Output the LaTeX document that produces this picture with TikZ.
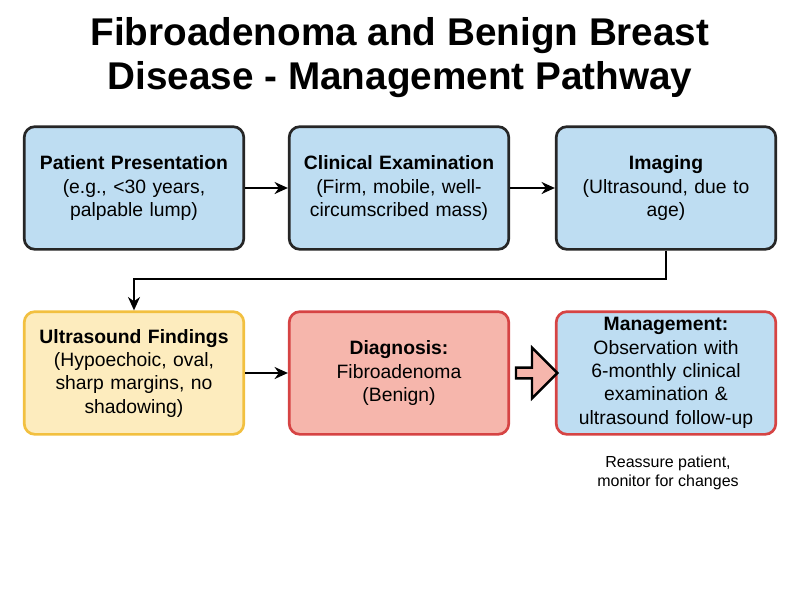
\documentclass[tikz,border=0pt]{standalone}
\usepackage{fontspec}
\setmainfont{Liberation Sans}
\usetikzlibrary{arrows.meta,shapes.arrows}
\definecolor{bluef}{RGB}{190,221,242}
\definecolor{yelf}{RGB}{253,236,190}
\definecolor{yelb}{RGB}{242,192,64}
\definecolor{redf}{RGB}{246,182,172}
\definecolor{redb}{RGB}{214,68,68}
\begin{document}
\begin{tikzpicture}[x=0.75pt,y=-0.75pt,
 box/.style={draw=black!85,line width=2pt,rounded corners=8pt,minimum width=163.5pt,minimum height=92pt,align=center,font=\fontsize{14.5}{17.5}\selectfont,text width=158pt},
 arr/.style={-{Stealth[length=10pt,width=9pt]},line width=1.7pt}]
\useasboundingbox (0,0) rectangle (800,600);
\node[font=\bfseries\fontsize{29}{33}\selectfont,align=center] (t) at (400,58) {Fibroadenoma and Benign Breast\\Disease - Management Pathway};
\node[box,fill=bluef] (a) at (134,188) {\textbf{Patient Presentation}\\(e.g., <30 years,\\palpable lump)};
\node[box,fill=bluef] (b) at (399,188) {\textbf{Clinical Examination}\\(Firm, mobile, well-\\circumscribed mass)};
\node[box,fill=bluef] (c) at (666,188) {\textbf{Imaging}\\(Ultrasound, due to\\age)};
\node[box,fill=yelf,draw=yelb] (d) at (134,373) {\textbf{Ultrasound Findings}\\(Hypoechoic, oval,\\sharp margins, no\\shadowing)};
\node[box,fill=redf,draw=redb] (e) at (399,373) {\textbf{Diagnosis:}\\Fibroadenoma\\(Benign)};
\node[box,fill=bluef,draw=redb] (f) at (666,373) {\textbf{Management:}\\Observation with\\6-monthly clinical\\examination \&\\ultrasound follow-up};
\node[font=\fontsize{12}{14}\selectfont,align=center] (n) at (668,473) {Reassure patient,\\monitor for changes};
\draw[arr] (a) -- (b);
\draw[arr] (b) -- (c);
\draw[arr] (c.south) -- ++(0,28) -| (d.north);
\draw[arr] (d) -- (e);
\node[single arrow,draw=black,line width=1.8pt,fill=redf,minimum height=31pt,minimum width=38pt,single arrow head extend=7pt,inner sep=1pt] (h) at (534,373) {};
\end{tikzpicture}
\end{document}
